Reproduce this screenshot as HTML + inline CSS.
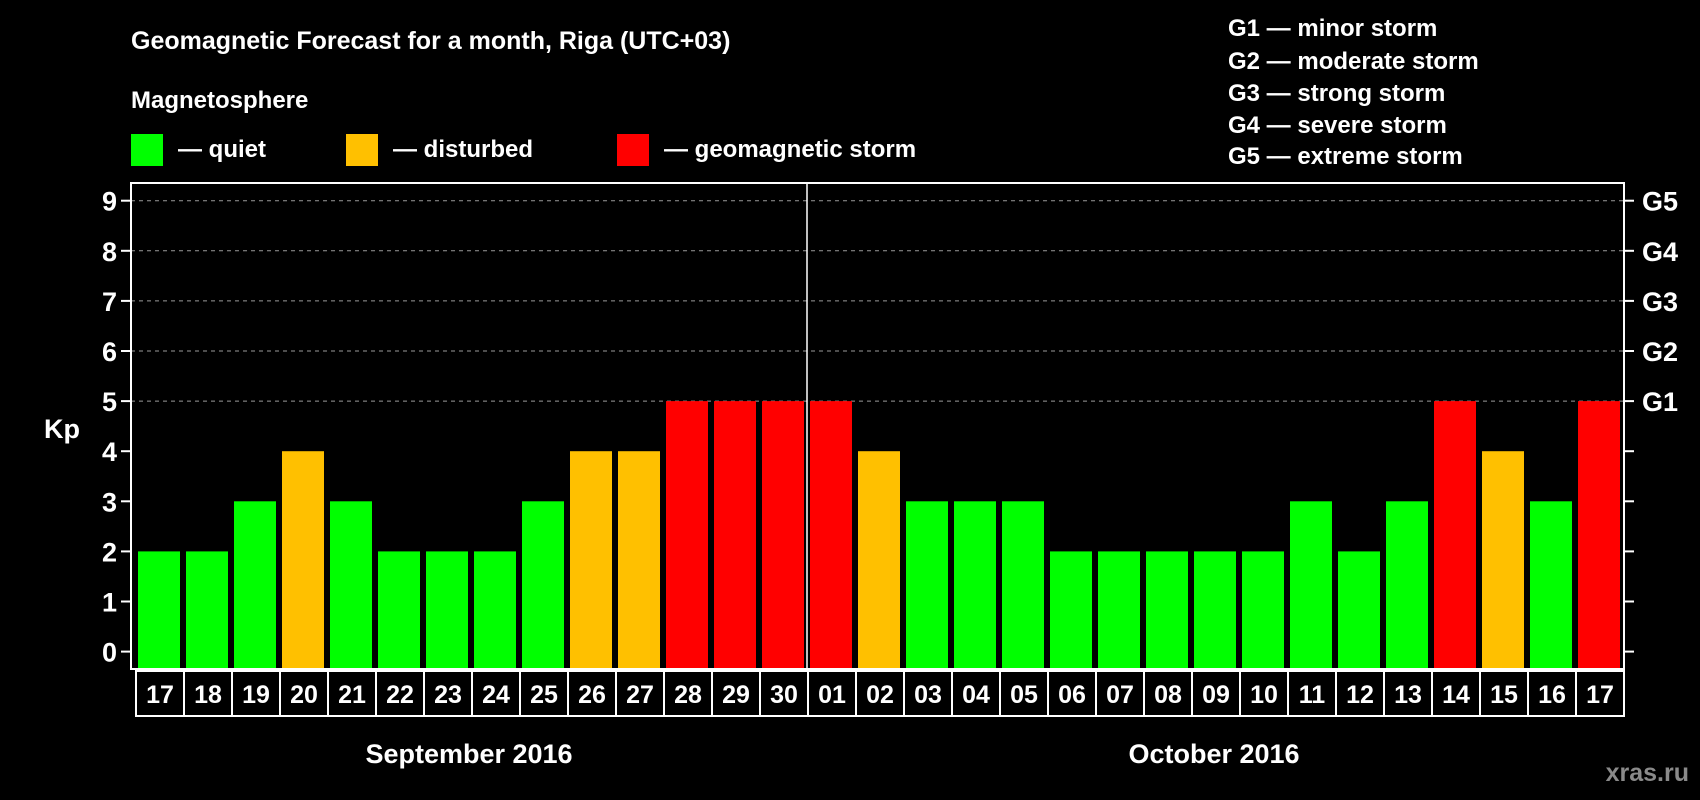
<!DOCTYPE html>
<html><head><meta charset="utf-8"><style>
html,body{margin:0;padding:0;background:#000;}
svg{display:block;font-family:"Liberation Sans",Arial,sans-serif;font-weight:bold;}
</style></head><body>
<svg id="chart" width="1700" height="800" viewBox="0 0 1700 800">
<rect x="0" y="0" width="1700" height="800" fill="#000"/>
<text x="131" y="49" fill="#fff" font-size="25">Geomagnetic Forecast for a month, Riga (UTC+03)</text>
<text x="131" y="108" fill="#fff" font-size="24">Magnetosphere</text>
<g>
<rect x="131" y="134" width="32" height="32" fill="#00ff00"/>
<text x="178" y="157" fill="#fff" font-size="24">— quiet</text></g>
<g>
<rect x="346" y="134" width="32" height="32" fill="#ffc000"/>
<text x="393" y="157" fill="#fff" font-size="24">— disturbed</text></g>
<g>
<rect x="617" y="134" width="32" height="32" fill="#ff0000"/>
<text x="664" y="157" fill="#fff" font-size="24">— geomagnetic storm</text></g>
<g font-size="24" fill="#fff">
<text x="1228" y="36">G1 — minor storm</text>
<text x="1228" y="69">G2 — moderate storm</text>
<text x="1228" y="101">G3 — strong storm</text>
<text x="1228" y="133">G4 — severe storm</text>
<text x="1228" y="164">G5 — extreme storm</text>
</g>
<g id="plot"></g>
<text x="62" y="438" fill="#fff" font-size="27" text-anchor="middle">Kp</text>
<text x="469" y="763" fill="#fff" font-size="27" text-anchor="middle">September 2016</text>
<text x="1214" y="763" fill="#fff" font-size="27" text-anchor="middle">October 2016</text>
<text x="1689" y="781" fill="#8a8a8a" font-size="25" text-anchor="end">xras.ru</text>
</svg>
<script>
const days = ["17","18","19","20","21","22","23","24","25","26","27","28","29","30","01","02","03","04","05","06","07","08","09","10","11","12","13","14","15","16","17"];
const kpValues = [2,2,3,4,3,2,2,2,3,4,4,5,5,5,5,4,3,3,3,2,2,2,2,2,3,2,3,5,4,3,5];
const yTicks = [0,1,2,3,4,5,6,7,8,9];
const gLabels = ["G1","G2","G3","G4","G5"];
const gLevels = [5,6,7,8,9];

const NS = "http://www.w3.org/2000/svg";
const plot = document.getElementById("plot");
const frameL = 131, frameR = 1624, frameT = 183, frameB = 669;
const slotX0 = 135, slotW = 48, barW = 42;
const y0 = 651.6, unit = 50.1;
function yScale(v){ return y0 - v*unit; }
function xSlot(i){ return slotX0 + i*slotW; }
function colorFor(v){ return v>=5 ? "#ff0000" : (v>=4 ? "#ffc000" : "#00ff00"); }
function mk(tag, attrs){ const e=document.createElementNS(NS,tag); for(const k in attrs) e.setAttribute(k,attrs[k]); plot.appendChild(e); return e; }

// gridlines
yTicks.forEach(t=>{
  if(t>=5){
    const g = mk("line",{x1:frameL,x2:frameR,y1:yScale(t),y2:yScale(t),stroke:"#9a9a9a","stroke-width":1,"stroke-dasharray":"4,4"});
    
    
  }
});
// bars
kpValues.forEach((v,i)=>{
  const top = yScale(v);
  const b = mk("rect",{x:xSlot(i)+3,y:top,width:barW,height:frameB-top,fill:colorFor(v)});
  
  
});
// divider
const div = mk("line",{x1:xSlot(14),x2:xSlot(14),y1:frameT,y2:frameB,stroke:"#fff","stroke-width":1.5});


// frame
const fr = mk("rect",{x:frameL,y:frameT,width:frameR-frameL,height:frameB-frameT,fill:"none",stroke:"#fff","stroke-width":2});


// y ticks and labels
yTicks.forEach(t=>{
  const y = yScale(t);
  const tk = mk("line",{x1:frameL-10,x2:frameL,y1:y,y2:y,stroke:"#fff","stroke-width":2});
  
  
  const rt = mk("line",{x1:frameR,x2:frameR+10,y1:y,y2:y,stroke:"#fff","stroke-width":2});
  
  
  const lb = mk("text",{x:117,y:y+10,fill:"#fff","font-size":27,"text-anchor":"end"});
  lb.textContent = t;
  
  
});
gLabels.forEach((g,i)=>{
  const lb = mk("text",{x:1642,y:yScale(gLevels[i])+10,fill:"#fff","font-size":27});
  lb.textContent = g;
  
  
});
// category boxes
days.forEach((d,i)=>{
  const bx = mk("rect",{x:xSlot(i)+1,y:frameB+2,width:slotW,height:45,fill:"#000",stroke:"#fff","stroke-width":2});
  
  
  const tx = mk("text",{x:xSlot(i)+1+slotW/2,y:frameB+34,fill:"#fff","font-size":25,"text-anchor":"middle"});
  tx.textContent = d;
  
  
});
</script>
</body></html>
